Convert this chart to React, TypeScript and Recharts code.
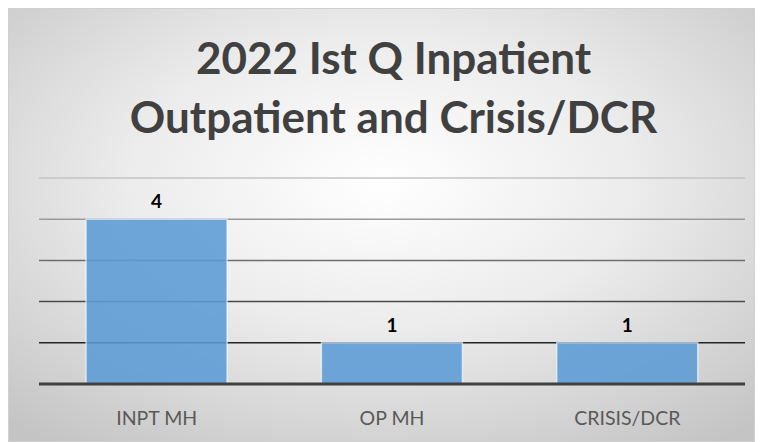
import React from "react";
import { BarChart, Bar, XAxis, YAxis, CartesianGrid, LabelList } from "recharts";

const categories = ["INPT MH", "OP MH", "CRISIS/DCR"];
const counts = [4, 1, 1];
const yTicks = [0, 1, 2, 3, 4, 5];
const titleLines = ["2022 Ist Q Inpatient", "Outpatient and Crisis/DCR"];

const data = categories.map((c, i) => ({ name: c, value: counts[i] }));

const W = 745;
const H = 432;
const FONT = "Lato, 'Open Sans', sans-serif";

export default function App() {
  return (
    <div
      style={{
        position: "relative",
        width: W,
        height: H,
        border: "1px solid #d0d0d0",
        background:
          "radial-gradient(ellipse 75% 75% at 50% 40%, #ffffff 0%, #ececec 45%, #c4c4c4 100%)",
        fontFamily: FONT,
      }}
    >
      <div
        style={{
          position: "absolute",
          top: 19,
          left: 12,
          width: W,
          textAlign: "center",
          color: "#404040",
          fontWeight: 700,
          fontSize: 44,
          lineHeight: "59px",
        }}
      >
        {titleLines.map((t) => (
          <div key={t}>{t}</div>
        ))}
      </div>
      <BarChart
        width={W}
        height={H}
        data={data}
        margin={{ top: 169, right: 9, left: 30, bottom: 12 }}
        barCategoryGap="20%"
        style={{ position: "absolute", top: 0, left: 0 }}
      >
        <defs>
          <linearGradient id="gridGrad" gradientUnits="userSpaceOnUse" x1="0" y1="169" x2="0" y2="375">
            <stop offset="0%" stopColor="#c4c4c4" />
            <stop offset="40%" stopColor="#6e6e6e" />
            <stop offset="100%" stopColor="#000000" />
          </linearGradient>
        </defs>
        <CartesianGrid vertical={false} stroke="url(#gridGrad)" strokeWidth={1.5} />
        <YAxis hide domain={[0, 5]} ticks={yTicks} />
        <XAxis
          dataKey="name"
          axisLine={{ stroke: "#404040", strokeWidth: 3 }}
          tickLine={false}
          tick={{ fill: "#595959", fontSize: 19.5, fontFamily: FONT }}
          tickMargin={21}
          height={45}
        />
        <Bar
          dataKey="value"
          fill="#5b9bd5"
          fillOpacity={0.88}
          stroke="#ffffff"
          strokeOpacity={0.6}
          strokeWidth={1.5}
          isAnimationActive={false}
        >
          <LabelList
            dataKey="value"
            position="top"
            offset={11}
            fill="#000000"
            fontWeight={700}
            fontSize={19}
            fontFamily={FONT}
          />
        </Bar>
      </BarChart>
    </div>
  );
}
